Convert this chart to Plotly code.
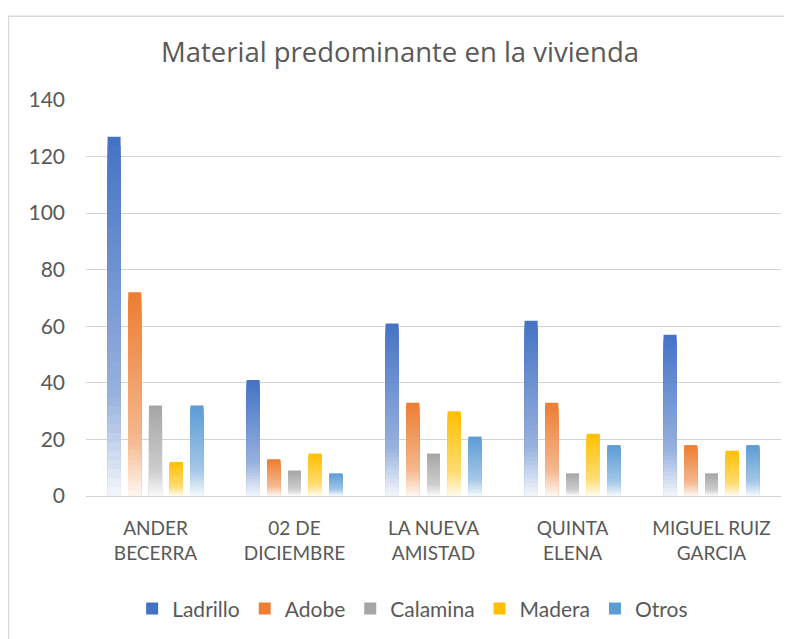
import plotly.graph_objects as go

categories = ["ANDER<br>BECERRA", "02 DE<br>DICIEMBRE", "LA NUEVA<br>AMISTAD", "QUINTA<br>ELENA", "MIGUEL RUIZ<br>GARCIA"]
ladrillo = [127, 41, 61, 62, 57]
adobe = [72, 13, 33, 33, 18]
calamina = [32, 9, 15, 8, 8]
madera = [12, 15, 30, 22, 16]
otros = [32, 8, 21, 18, 18]

series = [
    ("Ladrillo", ladrillo, (68, 114, 196)),
    ("Adobe", adobe, (237, 125, 49)),
    ("Calamina", calamina, (165, 165, 165)),
    ("Madera", madera, (255, 192, 0)),
    ("Otros", otros, (91, 155, 213)),
]

K = 40


def white_mix(f):
    if f <= 0.72:
        return 0.45 * f / 0.72
    return 0.45 + (0.94 - 0.45) * (f - 0.72) / 0.28


def tint(rgb, w):
    r, g, b = (round(c + (255 - c) * w) for c in rgb)
    return f"rgb({r},{g},{b})"


fig = go.Figure()
for name, vals, rgb in series:
    for k in range(K):
        frac = 1 - k / K
        f = (k + 0.5) / K
        fig.add_trace(go.Bar(
            x=categories,
            y=[v * frac for v in vals],
            name=name,
            offsetgroup=name,
            legendgroup=name,
            showlegend=(k == 0),
            marker=dict(color=tint(rgb, white_mix(f)), line=dict(width=0)),
            hoverinfo="skip" if k else None,
            customdata=vals,
            hovertemplate="%{x}: %{customdata}<extra>" + name + "</extra>",
        ))

font_main = "Lato, Calibri, Carlito, sans-serif"

fig.update_layout(
    width=784,
    height=631,
    paper_bgcolor="white",
    plot_bgcolor="white",
    barmode="group",
    bargap=0.255,
    bargroupgap=0.37,
    margin=dict(l=78, r=11, t=92, b=142),
    title=dict(
        text="Material predominante en la vivienda",
        x=0.5, xanchor="center",
        y=1 - 44 / 631, yanchor="middle",
        font=dict(family="Open Sans, sans-serif", size=27.5, color="#595959"),
    ),
    font=dict(family=font_main, size=18, color="#595959"),
    xaxis=dict(
        showgrid=False,
        showline=False,
        ticks="",
        ticklabelstandoff=19,
        tickfont=dict(size=19, color="#595959"),
    ),
    yaxis=dict(
        range=[0, 140],
        dtick=20,
        showgrid=True,
        gridcolor="#d4d4d4",
        gridwidth=1,
        zeroline=True,
        zerolinecolor="#d4d4d4",
        zerolinewidth=1,
        showline=False,
        ticks="",
        ticklabelstandoff=20,
        tickfont=dict(size=21, color="#595959"),
    ),
    legend=dict(
        orientation="h",
        x=0.47, xanchor="center",
        y=-0.282, yanchor="middle",
        font=dict(size=21, color="#595959"),
        traceorder="normal",
        itemwidth=30,
    ),
    shapes=[dict(
        type="rect", xref="paper", yref="paper",
        x0=-0.1115, x1=1.03, y0=-0.5, y1=1.2116,
        line=dict(color="#d9d9d9", width=1.5),
        fillcolor="rgba(0,0,0,0)",
        layer="below",
    )],
)

fig.write_html("out.html")
